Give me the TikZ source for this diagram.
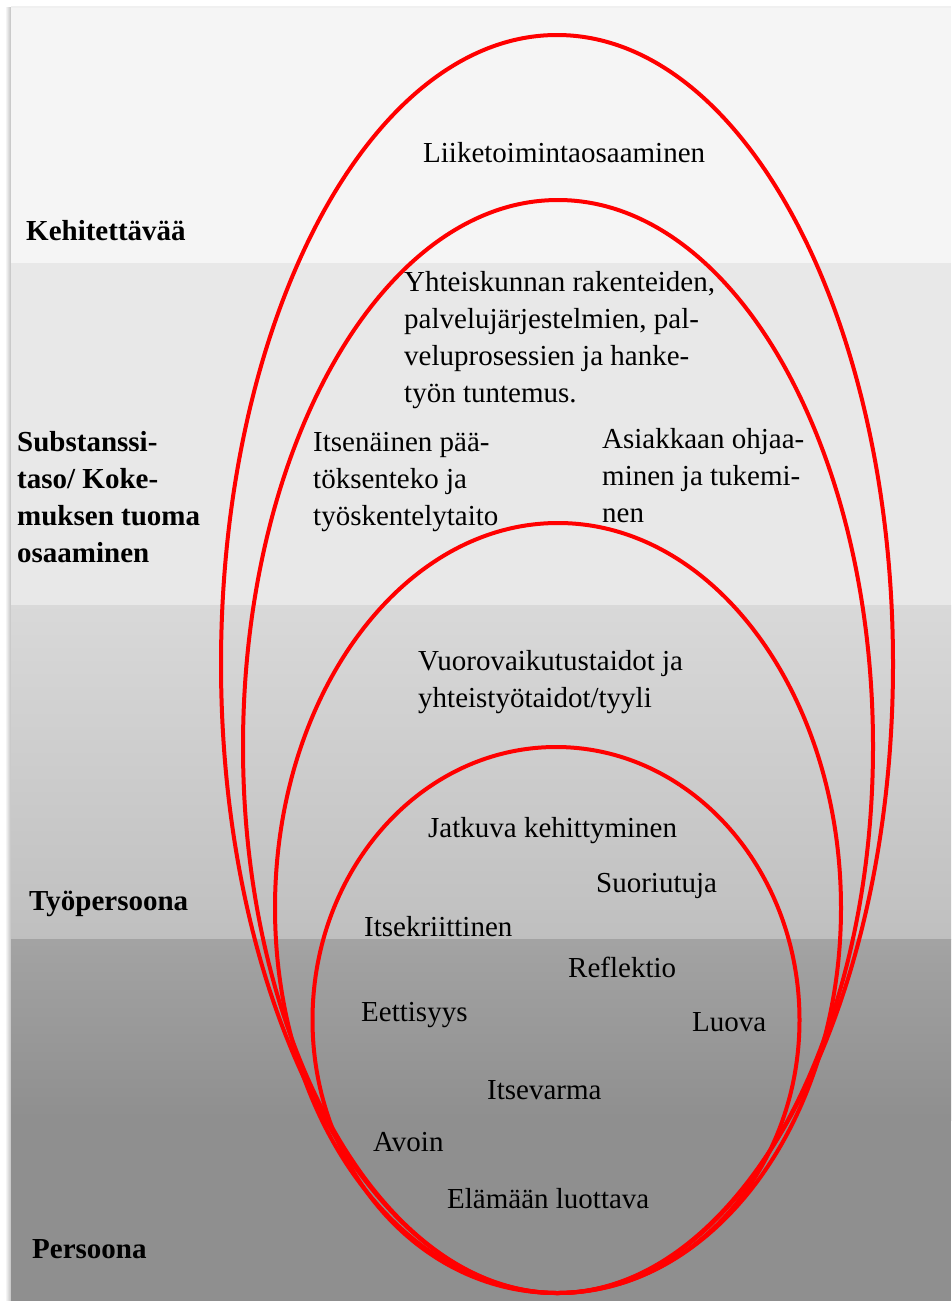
\documentclass[tikz,border=0pt]{standalone}
\usepackage{fontspec}
\setmainfont{Liberation Serif}

\begin{document}
\begin{tikzpicture}[x=1pt,y=-1pt,
  every node/.style={font=\fontsize{29}{37}\selectfont, inner sep=0pt, anchor=base west, align=left},
  taso/.style={font=\fontsize{29}{37}\selectfont\bfseries},
  ring/.style={draw=red, line width=4pt}]
  \useasboundingbox (0,0) rectangle (951,1301);

  % Background bands (light on top, dark below)
  \begin{scope}
    \shade[left color=white, right color=gray!50] (5,7) rectangle (11,1301);
    \fill[gray!12] (11,6) rectangle (951,8);
    \fill[black!4] (11,8) rectangle (951,263);
    \fill[black!9] (11,263) rectangle (951,605);
    \shade[top color=black!15, bottom color=black!25] (11,605) rectangle (951,939);
    \shade[top color=black!36, bottom color=black!44] (11,939) rectangle (951,1120);
    \fill[black!44] (11,1120) rectangle (951,1301);
  \end{scope}

  % Level names (multi-line nodes sit on their last baseline)
  \node[taso] (kehitettava) at (26,240) {Kehitettävää};
  \node[taso] (substanssi) at (17,562) {Substanssi-\\taso/ Koke-\\muksen tuoma\\osaaminen};
  \node[taso] (tyopersoona) at (29,910) {Työpersoona};
  \node[taso] (persoona) at (32,1258) {Persoona};

  % Nested ellipses, all touching at the bottom
  \draw[ring] (557,664) ellipse [x radius=336, y radius=629];
  \draw[ring] (558,746.5) ellipse [x radius=315, y radius=546.5];
  \draw[ring] (558,908) ellipse [x radius=283, y radius=385];
  \draw[ring] (556,1020) ellipse [x radius=243.5, y radius=273];

  % Outer ring
  \node (liiketoiminta) at (423,162) {Liiketoimintaosaaminen};

  % Second ring
  \node (yhteiskunta) at (404,402) {Yhteiskunnan rakenteiden,\\palvelujärjestelmien, pal-\\veluprosessien ja hanke-\\työn tuntemus.};
  \node (itsenainen) at (313,525) {Itsenäinen pää-\\töksenteko ja\\työskentelytaito};
  \node (asiakas) at (602,522) {Asiakkaan ohjaa-\\minen ja tukemi-\\nen};

  % Third ring
  \node (vuorovaikutus) at (418,707) {Vuorovaikutustaidot ja\\yhteistyötaidot/tyyli};

  % Inner ring
  \node (jatkuva) at (428,837) {Jatkuva kehittyminen};
  \node (suoriutuja) at (596,892) {Suoriutuja};
  \node (itsekriittinen) at (364,936) {Itsekriittinen};
  \node (reflektio) at (568,977) {Reflektio};
  \node (eettisyys) at (361,1021) {Eettisyys};
  \node (luova) at (692,1031) {Luova};
  \node (itsevarma) at (487,1099) {Itsevarma};
  \node (avoin) at (373,1151) {Avoin};
  \node (elamaan) at (447,1208) {Elämään luottava};
\end{tikzpicture}
\end{document}
